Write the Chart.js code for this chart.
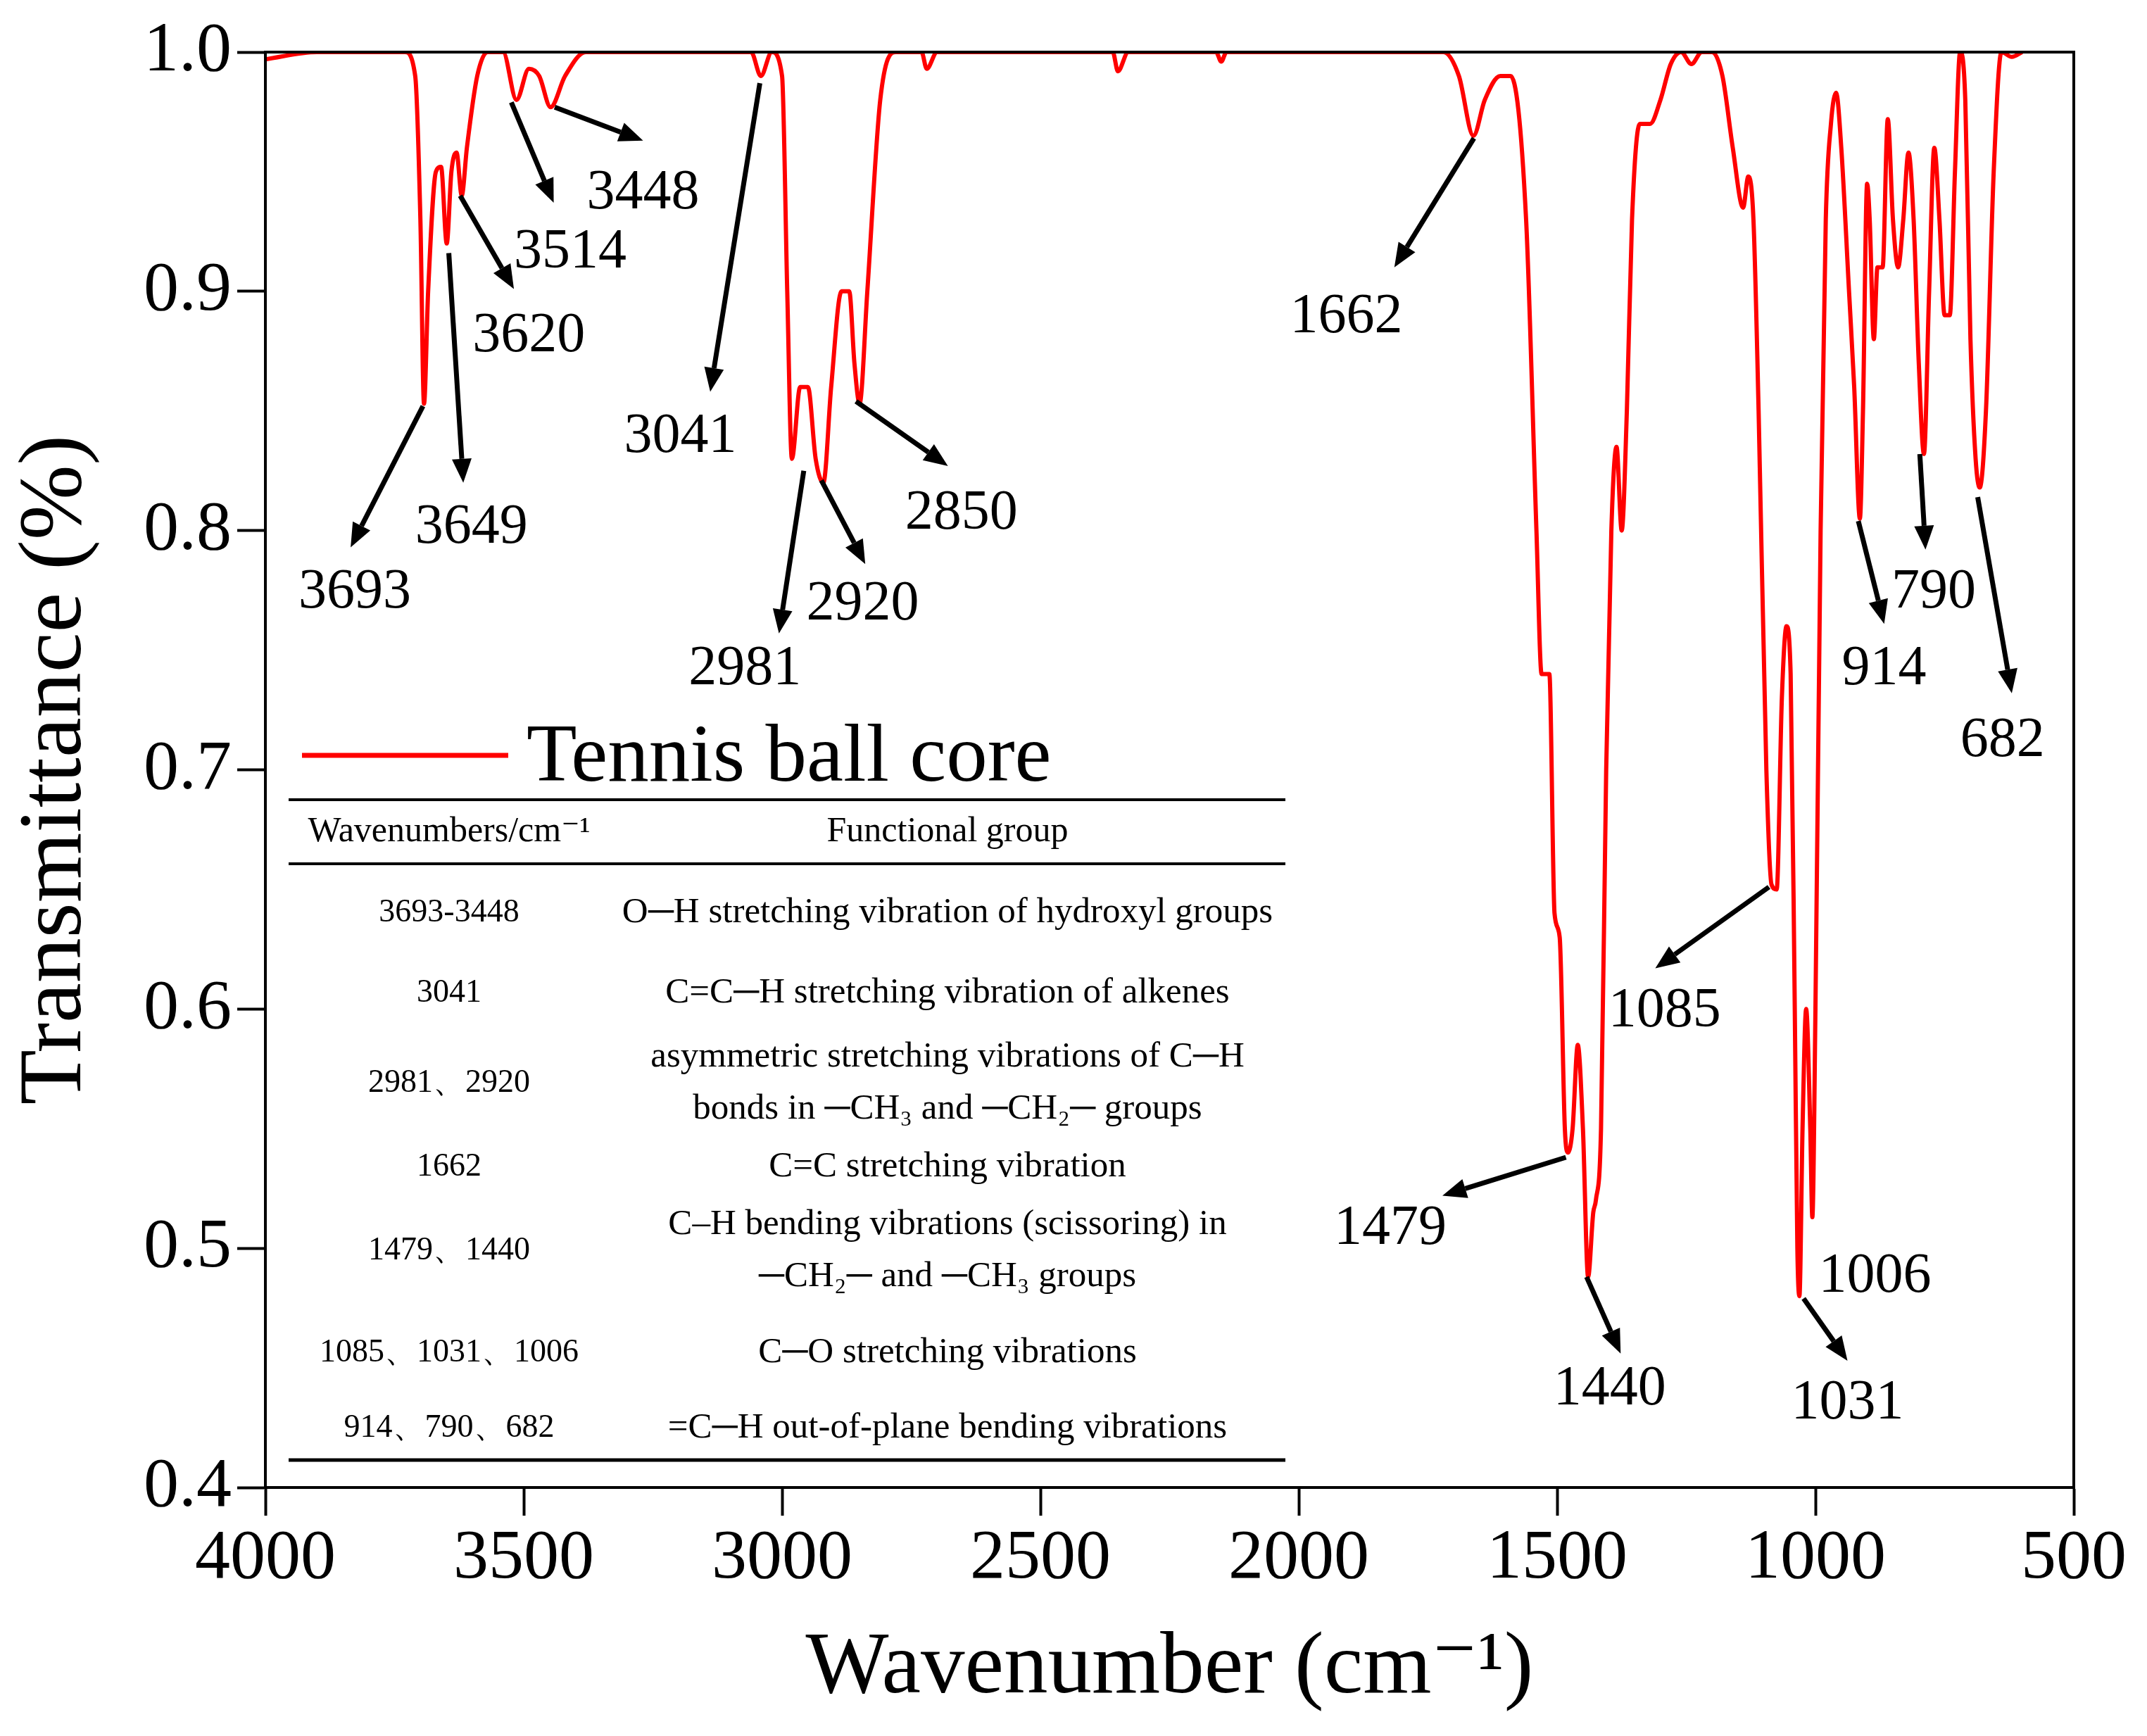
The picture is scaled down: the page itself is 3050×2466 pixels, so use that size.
<!DOCTYPE html>
<html><head><meta charset="utf-8">
<script src="https://cdn.jsdelivr.net/npm/chart.js@4"></script>
<style>html,body{margin:0;padding:0;background:#fff}</style>
</head><body>
<canvas id="c" width="3050" height="2466"></canvas>
<script>
const wavenumbers = [4000,3900,3730,3710,3700,3693,3685,3670,3660,3649,3640,3630,3620,3610,3590,3570,3540,3514,3490,3470,3448,3420,3380,3100,3060,3041,3020,3000,2990,2981,2965,2950,2935,2920,2905,2885,2870,2860,2850,2835,2810,2780,2730,2720,2700,2360,2350,2330,2160,2150,2140,1720,1690,1662,1640,1610,1590,1560,1540,1530,1515,1505,1495,1485,1479,1470,1460,1450,1440,1430,1425,1415,1405,1395,1385,1375,1365,1355,1340,1320,1300,1280,1260,1240,1220,1200,1180,1160,1140,1130,1120,1110,1095,1085,1075,1065,1056,1048,1040,1035,1031,1025,1018,1010,1006,1000,990,980,970,960,950,935,925,914,908,900,895,887,880,870,860,850,840,830,820,810,800,790,780,770,760,750,740,730,720,710,700,690,682,670,655,640,620,600];
const transmittance = [0.997,1.0,1.0,0.99,0.93,0.853,0.9,0.95,0.952,0.92,0.95,0.958,0.94,0.96,0.99,1.0,1.0,0.98,0.993,0.99,0.977,0.99,1.0,1.0,1.0,0.99,1.0,0.99,0.9,0.83,0.86,0.86,0.83,0.82,0.86,0.9,0.9,0.87,0.853,0.9,0.98,1.0,1.0,0.993,1.0,1.0,0.992,1.0,1.0,0.996,1.0,1.0,0.99,0.965,0.98,0.99,0.99,0.93,0.8,0.74,0.74,0.64,0.63,0.55,0.54,0.55,0.585,0.55,0.488,0.515,0.52,0.55,0.7,0.8,0.835,0.8,0.85,0.93,0.97,0.97,0.98,0.995,1.0,0.995,1.0,1.0,0.99,0.96,0.935,0.948,0.93,0.85,0.7,0.652,0.65,0.73,0.76,0.74,0.6,0.5,0.48,0.55,0.6,0.55,0.513,0.6,0.8,0.93,0.97,0.983,0.96,0.9,0.86,0.805,0.85,0.945,0.93,0.88,0.91,0.91,0.972,0.93,0.91,0.93,0.958,0.93,0.87,0.832,0.9,0.96,0.93,0.89,0.89,0.95,1.0,0.98,0.88,0.83,0.818,0.85,0.95,1.0,0.998,1.0];
const xTicks = [4000,3500,3000,2500,2000,1500,1000,500];
const yTicks = [0.4,0.5,0.6,0.7,0.8,0.9,1.0];
// peak labels: [text, arrowStartWn, arrowStartT, arrowEndWn, arrowEndT, textWn, textT]
const peakLabels = [
 ["3693",3695,0.852,3835,0.793,3827,0.774],
 ["3649",3645,0.916,3617,0.820,3601,0.801],
 ["3620",3623,0.940,3519,0.901,3490,0.881],
 ["3514",3524,0.979,3442,0.937,3410,0.916],
 ["3448",3440,0.977,3269,0.963,3269,0.941],
 ["3041",3043,0.987,3139,0.858,3197,0.839],
 ["2981",2958,0.825,3006,0.757,3072,0.742],
 ["2920",2924,0.821,2839,0.786,2844,0.769],
 ["2850",2857,0.854,2679,0.827,2653,0.807],
 ["1662",1661,0.964,1815,0.910,1908,0.889],
 ["1479",1483,0.538,1722,0.522,1823,0.508],
 ["1440",1443,0.488,1377,0.456,1398,0.441],
 ["1085",1090,0.651,1310,0.617,1292,0.599],
 ["1031",1023,0.479,938,0.453,938,0.435],
 ["1006",null,null,null,null,885,0.488],
 ["914",917,0.804,867,0.761,867,0.742],
 ["790",798,0.832,787,0.792,771,0.774],
 ["682",686,0.814,620,0.732,638,0.712]
];
const tableHeader = ["Wavenumbers/cm\u207B\u00B9","Functional group"];
const tableCol1 = ["3693-3448","3041","2981\u30012920","1662","1479\u30011440","1085\u30011031\u30011006","914\u3001790\u3001682"];
const tableCol2 = [["O\u2500H stretching vibration of hydroxyl groups"],["C=C\u2500H stretching vibration of alkenes"],["asymmetric stretching vibrations of C\u2500H","bonds in \u2500CH\u2083 and \u2500CH\u2082\u2500 groups"],["C=C stretching vibration"],["C\u2013H bending vibrations (scissoring) in","\u2500CH\u2082\u2500 and \u2500CH\u2083 groups"],["C\u2500O stretching vibrations"],["=C\u2500H out-of-plane bending vibrations"]];
const rowY = [[1297],[1411],[1502,1576],[1658],[1740,1814],[1922],[2029]];

const SERIF = "'Liberation Serif','DejaVu Serif',serif";

const overlay = {
 id:'overlay',
 afterDraw(chart){
  const ctx = chart.ctx, a = chart.chartArea, xs = chart.scales.x, ys = chart.scales.y;
  ctx.save();
  ctx.strokeStyle='#000'; ctx.lineWidth=4;
  ctx.strokeRect(a.left,a.top,a.right-a.left,a.bottom-a.top);
  ctx.fillStyle='#000';
  ctx.font = "80px "+SERIF; ctx.textAlign='center'; ctx.textBaseline='middle';
  for (const p of peakLabels){
   if (p[1]!==null){
    const x1=xs.getPixelForValue(p[1]), y1=ys.getPixelForValue(p[2]);
    const x2=xs.getPixelForValue(p[3]), y2=ys.getPixelForValue(p[4]);
    const ang=Math.atan2(y2-y1,x2-x1), L=34, W=14;
    const bx=x2-L*Math.cos(ang), by=y2-L*Math.sin(ang);
    ctx.lineWidth=7; ctx.beginPath(); ctx.moveTo(x1,y1); ctx.lineTo(bx,by); ctx.stroke();
    ctx.beginPath(); ctx.moveTo(x2,y2);
    ctx.lineTo(bx+W*Math.sin(ang), by-W*Math.cos(ang));
    ctx.lineTo(bx-W*Math.sin(ang), by+W*Math.cos(ang));
    ctx.closePath(); ctx.fill();
   }
   ctx.fillText(p[0], xs.getPixelForValue(p[5]), ys.getPixelForValue(p[6]));
  }
  // legend
  ctx.strokeStyle='#ff0000'; ctx.lineWidth=7; ctx.beginPath(); ctx.moveTo(429,1073); ctx.lineTo(722,1073); ctx.stroke();
  ctx.textAlign='left'; ctx.font="117px "+SERIF; ctx.fillText(chart.data.datasets[0].label,748,1078);
  // table
  ctx.strokeStyle='#000'; ctx.lineWidth=4;
  for (const yy of [1136,1227]){ctx.beginPath();ctx.moveTo(410,yy);ctx.lineTo(1826,yy);ctx.stroke();}
  ctx.lineWidth=5; ctx.beginPath();ctx.moveTo(410,2074);ctx.lineTo(1826,2074);ctx.stroke();
  ctx.textAlign='center'; ctx.font="50px "+SERIF;
  ctx.fillText(tableHeader[0],638,1182); ctx.fillText(tableHeader[1],1346,1182);
  for (let i=0;i<tableCol1.length;i++){
   const ys2=rowY[i], mid=(ys2[0]+ys2[ys2.length-1])/2;
   ctx.font="46px "+SERIF; ctx.fillText(tableCol1[i],638,mid);
   ctx.font="51px "+SERIF;
   tableCol2[i].forEach((t,j)=>ctx.fillText(t,1346,ys2[j]));
  }
  ctx.restore();
 }
};

new Chart(document.getElementById('c'),{
 type:'line',
 data:{datasets:[{label:'Tennis ball core',data:wavenumbers.map((w,i)=>({x:w,y:transmittance[i]})),borderColor:'#ff0000',borderWidth:6,pointRadius:0,cubicInterpolationMode:'monotone',fill:false}]},
 options:{
  responsive:false,animation:false,devicePixelRatio:1,
  layout:{padding:{left:0,top:74,right:104,bottom:0}},
  plugins:{legend:{display:false},tooltip:{enabled:false}},
  scales:{
   x:{type:'linear',reverse:true,min:500,max:4000,
      afterBuildTicks(s){s.ticks=xTicks.map(v=>({value:v}));},
      afterFit(s){s.height=353;},
      grid:{drawOnChartArea:false,tickLength:40,tickWidth:4,tickColor:'#000'},
      border:{color:'#000',width:4},
      ticks:{color:'#000',font:{family:SERIF,size:100},padding:2,maxRotation:0,callback:v=>String(v)},
      title:{display:true,text:'Wavenumber (cm\u207B\u00B9)',color:'#000',font:{family:SERIF,size:125},padding:{top:0,bottom:20}}},
   y:{min:0.4,max:1.0,
      afterBuildTicks(s){s.ticks=yTicks.map(v=>({value:v}));},
      afterFit(s){s.width=377;},
      grid:{drawOnChartArea:false,tickLength:40,tickWidth:4,tickColor:'#000'},
      border:{color:'#000',width:4},
      ticks:{color:'#000',font:{family:SERIF,size:100},padding:8,callback:v=>v.toFixed(1)},
      title:{display:true,text:'Transmittance (%)',color:'#000',font:{family:SERIF,size:128},padding:{bottom:0}}}
  }
 },
 plugins:[overlay]
});
</script>
</body></html>
